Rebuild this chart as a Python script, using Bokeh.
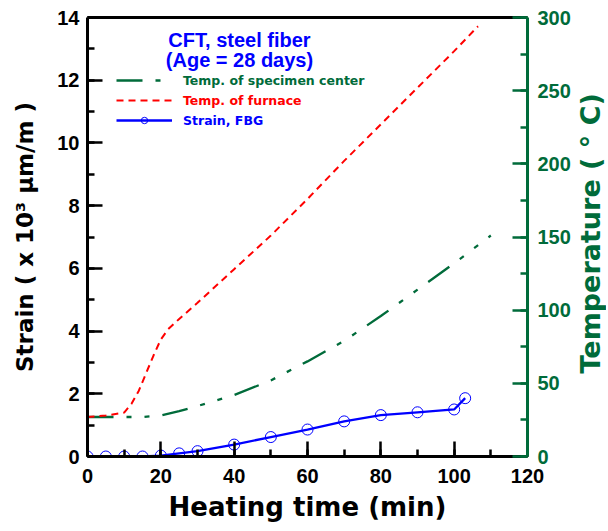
from math import pi
from bokeh.plotting import figure
from bokeh.models import (Range1d, LinearAxis, Label, Legend, LegendItem,
                          SingleIntervalTicker, FixedTicker)
from bokeh.embed import file_html
from bokeh.resources import INLINE

# ---------------- data ----------------
t_strain = [0, 5, 10, 15, 20, 25, 30, 40, 50, 60, 70, 80, 90, 100, 103]
strain = [0, 0, 0, 0, 0.03, 0.1, 0.17, 0.38, 0.62, 0.86, 1.12, 1.32, 1.41, 1.5, 1.86]

t_center = [0, 5, 10, 15, 20, 25, 30, 40, 50, 60, 70, 80, 90, 100, 110]
temp_center = [27, 27, 27, 27, 28, 31, 34.5, 42, 52, 65, 79, 96, 114, 132, 151]

t_furnace = [0, 5, 10, 12, 14, 16, 18, 20, 22, 25, 30, 40, 50, 60, 70, 80, 90, 100, 106.5]
temp_furnace = [27, 28, 30, 36, 45, 57, 69, 80, 87, 94, 105, 128, 151, 176, 202, 227, 252, 277, 294]

legend_labels = ["Temp. of specimen center", "Temp. of furnace", "Strain, FBG"]
title_lines = ["CFT, steel fiber", "(Age = 28 days)"]
x_title = "Heating time (min)"
y_title = "Strain ( x 10\u00b3 \u03bcm/m )"
y2_title = "Temperature ( \u00b0 C)"

GREEN = "#006B3A"
BLUE = "#0000FF"
RED = "#FF0000"

# ---------------- layout ----------------
W, H = 606, 529
ML, MT = 87, 17
FW, FH = 440, 439
MR, MB = W - ML - FW, H - MT - FH
X0, X1, Y0, Y1, T1 = 0, 120, 0, 14, 300


def px2x(px):  # canvas pixel -> data x
    return (px - ML) / FW * (X1 - X0) + X0


def py2y(py):  # canvas pixel -> data y (left axis)
    return (MT + FH - py) / FH * (Y1 - Y0) + Y0


p = figure(width=W, height=H, output_backend="svg", toolbar_location=None,
           x_range=Range1d(X0, X1), y_range=Range1d(Y0, Y1),
           min_border_left=ML, min_border_right=MR, min_border_top=MT, min_border_bottom=MB,
           x_axis_location=None, y_axis_location=None)
p.extra_y_ranges = {"temp": Range1d(0, T1)}
p.xgrid.visible = False
p.ygrid.visible = False
p.outline_line_color = None
p.background_fill_color = "white"
p.border_fill_color = "white"


def style(ax, color):
    ax.axis_line_color = color
    ax.axis_line_width = 3
    ax.major_tick_line_color = color
    ax.minor_tick_line_color = color
    ax.major_tick_line_width = 2.5
    ax.minor_tick_line_width = 2.5
    ax.major_tick_in = 15
    ax.major_tick_out = 0
    ax.minor_tick_in = 7
    ax.minor_tick_out = 0
    ax.major_label_text_font = "Liberation Sans"
    ax.major_label_text_font_style = "bold"
    ax.major_label_text_font_size = "20px"
    ax.major_label_text_color = color
    ax.axis_label_text_font = "DejaVu Sans"
    ax.axis_label_text_font_style = "bold"
    ax.axis_label_text_color = color


xaxis = LinearAxis(ticker=SingleIntervalTicker(interval=20, num_minor_ticks=2),
                   axis_label=x_title)
style(xaxis, "black")
xaxis.major_label_standoff = 12
xaxis.axis_label_standoff = 6
xaxis.axis_label_text_font_size = "26px"

yaxis = LinearAxis(ticker=SingleIntervalTicker(interval=2, num_minor_ticks=2),
                   axis_label=y_title)
style(yaxis, "black")
yaxis.major_label_standoff = 8
yaxis.axis_label_standoff = 16
yaxis.axis_label_text_font_size = "23px"

raxis = LinearAxis(y_range_name="temp",
                   ticker=SingleIntervalTicker(interval=50, num_minor_ticks=2))
style(raxis, GREEN)
raxis.major_label_standoff = 10

taxis = LinearAxis(ticker=FixedTicker(ticks=[]))
taxis.axis_line_color = "black"
taxis.axis_line_width = 3
taxis.major_label_text_font_size = "0px"

p.add_layout(xaxis, "below")
p.add_layout(yaxis, "left")
p.add_layout(raxis, "right")
p.add_layout(taxis, "above")

# right axis title: a rotated label in the right side panel (reads bottom to top)
p.add_layout(Label(x=px2x(590), y=py2y(373), text=y2_title, angle=pi / 2,
                   text_align="left", text_baseline="alphabetic",
                   text_font="DejaVu Sans", text_font_style="bold",
                   text_font_size="27px", text_color=GREEN), "right")

# ---------------- glyphs ----------------
g_line = p.line(t_center, temp_center, y_range_name="temp", line_color=GREEN,
                line_width=2.3, line_dash="26 13 5 13 5 13")
r_line = p.line(t_furnace, temp_furnace, y_range_name="temp", line_color=RED,
                line_width=2, line_dash="7 5")
b_line = p.line(t_strain, strain, line_color=BLUE, line_width=2.3)
b_pts = p.scatter(t_strain, strain, marker="circle", size=11, fill_color=None,
                  line_color=BLUE, line_width=1)

# ---------------- legends ----------------
ITEM_H = 16
for lab, rends, col, row_y in [(legend_labels[0], [g_line], GREEN, 80),
                               (legend_labels[1], [r_line], RED, 100),
                               (legend_labels[2], [b_line, b_pts], BLUE, 120)]:
    lg = Legend(items=[LegendItem(label=lab, renderers=rends)],
                location=(29, (MT + FH) - (row_y + ITEM_H // 2)),
                label_text_color=col, label_text_font="DejaVu Sans",
                label_text_font_style="bold", label_text_font_size="12.5px",
                glyph_width=56, glyph_height=ITEM_H, label_height=ITEM_H, label_standoff=11,
                padding=0, margin=0, spacing=0, border_line_color=None,
                background_fill_alpha=0)
    p.add_layout(lg)

# ---------------- title texts ----------------
for txt, py in [(title_lines[0], 39), (title_lines[1], 59)]:
    p.add_layout(Label(x=px2x(239), y=py2y(py), text=txt, text_align="center",
                       text_baseline="alphabetic", text_font="Liberation Sans",
                       text_font_style="bold", text_font_size="20px", text_color=BLUE))

open("out.html", "w").write(file_html(p, INLINE))
